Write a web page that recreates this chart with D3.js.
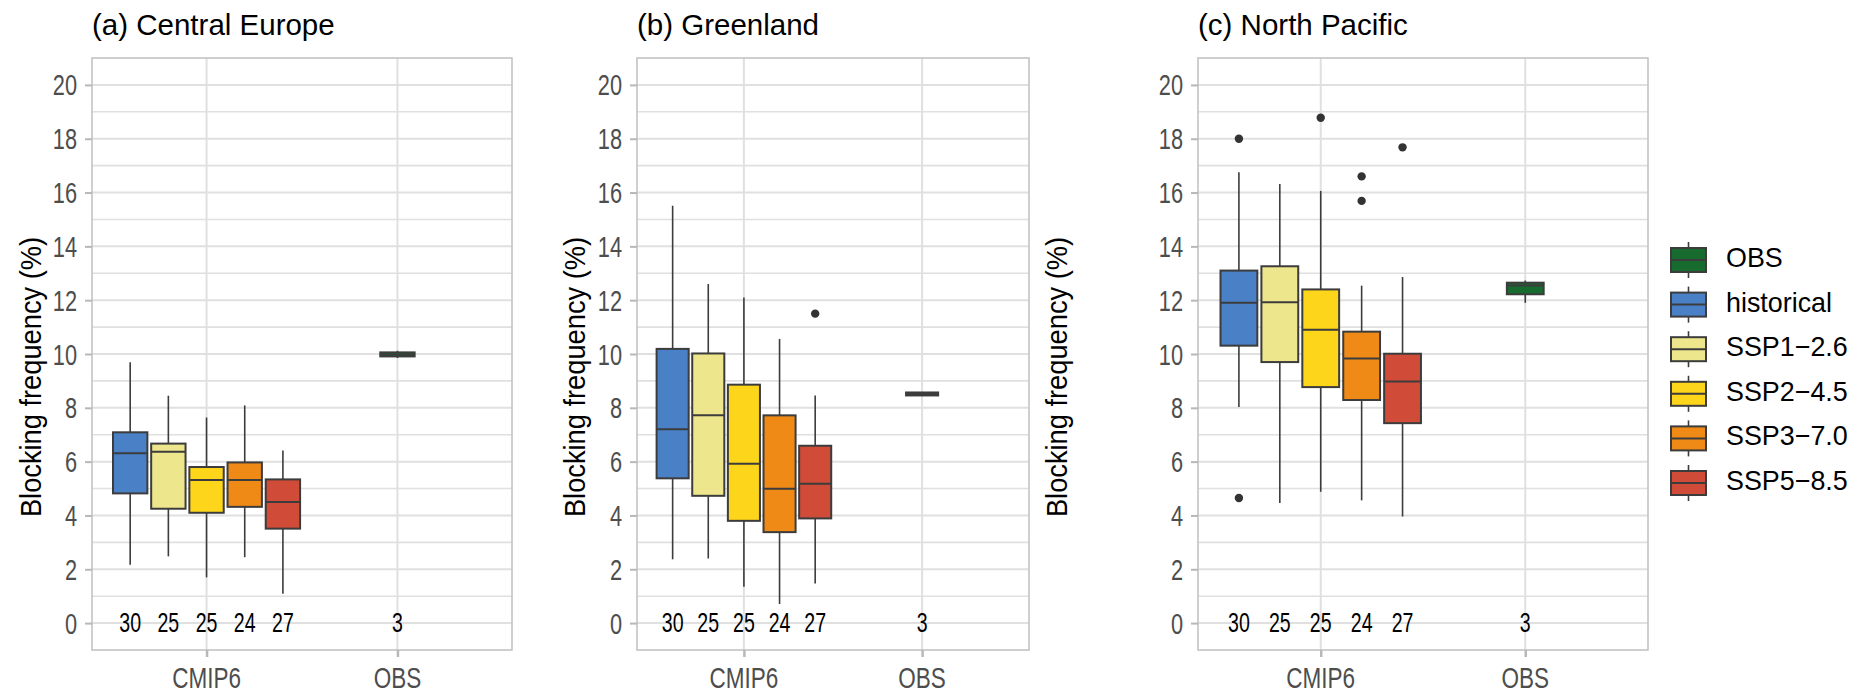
<!DOCTYPE html>
<html>
<head>
<meta charset="utf-8">
<script src="https://cdn.jsdelivr.net/npm/d3@7"></script>
<style>
  html, body { margin: 0; padding: 0; background: #ffffff; }
  svg { display: block; }
  text { font-family: "Liberation Sans", Arial, Helvetica, sans-serif; }
</style>
</head>
<body>
<script>
// ---- data -------------------------------------------------------------
const groups = ["CMIP6", "OBS"];
const scenarios = ["historical", "SSP1\u22122.6", "SSP2\u22124.5", "SSP3\u22127.0", "SSP5\u22128.5"];
const legendLabels = ["OBS", "historical", "SSP1\u22122.6", "SSP2\u22124.5", "SSP3\u22127.0", "SSP5\u22128.5"];
const legendColors = ["#176b2f", "#4a80c6", "#ede68c", "#fdd51a", "#f08a16", "#d04c38"];
const modelCounts = [30, 25, 25, 24, 27];
const obsCount = 3;
const yTicks = [0, 2, 4, 6, 8, 10, 12, 14, 16, 18, 20];
const yMinor = [-1, 1, 3, 5, 7, 9, 11, 13, 15, 17, 19, 21];
const panelTitles = ["(a) Central Europe", "(b) Greenland", "(c) North Pacific"];
const yTitle = "Blocking frequency (%)";

// box statistics per scenario: [lower whisker, Q1, median, Q3, upper whisker]
const centralEuropeCmip = [
  [2.17, 4.82, 6.31, 7.09, 9.69],
  [2.48, 4.25, 6.37, 6.67, 8.45],
  [1.70, 4.10, 5.32, 5.80, 7.64],
  [2.45, 4.32, 5.32, 5.97, 8.09],
  [1.09, 3.51, 4.50, 5.34, 6.41]
];
const centralEuropeObs = [9.85, 9.91, 9.98, 10.06, 10.12];
const centralEuropeOutliers = [[], [], [], [], []];

const greenlandCmip = [
  [2.37, 5.38, 7.20, 10.19, 15.51],
  [2.40, 4.73, 7.72, 10.02, 12.60],
  [1.35, 3.80, 5.92, 8.86, 12.10],
  [0.71, 3.38, 4.99, 7.72, 10.56],
  [1.47, 3.89, 5.18, 6.59, 8.46]
];
const greenlandObs = [8.45, 8.46, 8.51, 8.57, 8.58];
const greenlandOutliers = [[], [], [], [], [11.50]];

const northPacificCmip = [
  [8.03, 10.31, 11.90, 13.10, 16.75],
  [4.46, 9.70, 11.92, 13.26, 16.32],
  [4.88, 8.77, 10.90, 12.40, 16.06],
  [4.56, 8.29, 9.83, 10.83, 12.54],
  [3.96, 7.43, 8.98, 10.01, 12.86]
];
const northPacificObs = [11.90, 12.22, 12.55, 12.65, 12.73];
const northPacificOutliers = [[18.00, 4.65], [], [18.78], [16.60, 15.69], [17.68]];

const panels = [
  { title: panelTitles[0], cmip: centralEuropeCmip, obs: centralEuropeObs, outliers: centralEuropeOutliers },
  { title: panelTitles[1], cmip: greenlandCmip, obs: greenlandObs, outliers: greenlandOutliers },
  { title: panelTitles[2], cmip: northPacificCmip, obs: northPacificObs, outliers: northPacificOutliers }
];

// ---- layout -------------------------------------------------------------
const W = 1870, H = 694;
const plotTop = 58, plotBottom = 650;
const panelLeft = [92, 637, 1198];
const panelRight = [512, 1029, 1648];
const yTitleX = [31, 575, 1057];
const yTitleY = 377;

const gridColor = "#e0e0e0";
const borderColor = "#c4c4c4";
const tickColor = "#b8b8b8";
const boxStroke = "#3c3c3c";
const axisTextColor = "#4d4d4d";

const svg = d3.select("body").append("svg")
  .attr("width", W).attr("height", H);

svg.append("rect").attr("width", W).attr("height", H).attr("fill", "#ffffff");

// text with horizontal condensing
function addText(parent, x, y, str, o) {
  const sx = o.sx || 1;
  const rot = o.rotate ? ` rotate(${o.rotate})` : "";
  return parent.append("text")
    .attr("transform", `translate(${x},${y})${rot} scale(${sx},1)`)
    .attr("text-anchor", o.anchor || "start")
    .attr("font-size", o.size)
    .attr("fill", o.fill || "#000")
    .text(str);
}

const y = d3.scaleLinear().domain([-1, 21]).range([plotBottom, plotTop]);

panels.forEach((p, pi) => {
  const L = panelLeft[pi], R = panelRight[pi];
  const x = d3.scalePoint().domain(groups).range([L, R]).padding(0.6);
  const step = x.step();
  const boxW = step * 0.18;
  const g = svg.append("g");

  // grid
  g.selectAll(".minor").data(yMinor.filter(v => v > -1 && v < 21)).join("line")
    .attr("x1", L).attr("x2", R)
    .attr("y1", d => y(d)).attr("y2", d => y(d))
    .attr("stroke", gridColor).attr("stroke-width", 1.6);
  g.selectAll(".major").data(yTicks).join("line")
    .attr("x1", L).attr("x2", R)
    .attr("y1", d => y(d)).attr("y2", d => y(d))
    .attr("stroke", gridColor).attr("stroke-width", 2);
  g.selectAll(".vgrid").data(groups).join("line")
    .attr("x1", d => x(d)).attr("x2", d => x(d))
    .attr("y1", plotTop).attr("y2", plotBottom)
    .attr("stroke", gridColor).attr("stroke-width", 2);

  // panel border
  g.append("rect")
    .attr("x", L).attr("y", plotTop)
    .attr("width", R - L).attr("height", plotBottom - plotTop)
    .attr("fill", "none").attr("stroke", borderColor).attr("stroke-width", 1.6);

  // y axis
  const sxTick = 0.75;
  const yAxis = g.append("g").attr("transform", `translate(${L},0)`)
    .call(d3.axisLeft(y).tickValues(yTicks).tickSize(7).tickPadding(8).tickFormat(d3.format("d")));
  yAxis.select(".domain").remove();
  yAxis.selectAll(".tick line").attr("stroke", tickColor).attr("stroke-width", 2);
  yAxis.selectAll(".tick text")
    .attr("x", -15 / sxTick).attr("dy", null).attr("y", 10)
    .attr("transform", `scale(${sxTick},1)`)
    .attr("font-size", 29).attr("fill", axisTextColor)
    .attr("font-family", "Liberation Sans, Arial, sans-serif");

  // x axis
  const xAxis = g.append("g").attr("transform", `translate(0,${plotBottom})`)
    .call(d3.axisBottom(x).tickSize(7).tickPadding(0));
  xAxis.select(".domain").remove();
  xAxis.selectAll(".tick line").attr("stroke", tickColor).attr("stroke-width", 2.5);
  xAxis.selectAll(".tick text").remove();
  groups.forEach(gr => {
    addText(g, x(gr), 688, gr, { size: 30, sx: 0.75, anchor: "middle", fill: axisTextColor });
  });

  // boxes: one per scenario, dodged around the CMIP6 position, plus OBS
  const boxes = p.cmip.map((s, i) => ({
    cx: x("CMIP6") + (i - 2) * step * 0.2,
    stats: s, fill: legendColors[i + 1], outliers: p.outliers[i], n: modelCounts[i]
  }));
  boxes.push({ cx: x("OBS"), stats: p.obs, fill: legendColors[0], outliers: [], n: obsCount });

  boxes.forEach(b => {
    const [lo, q1, med, q3, hi] = b.stats;
    g.append("line").attr("x1", b.cx).attr("x2", b.cx)
      .attr("y1", y(hi)).attr("y2", y(q3))
      .attr("stroke", boxStroke).attr("stroke-width", 1.6);
    g.append("line").attr("x1", b.cx).attr("x2", b.cx)
      .attr("y1", y(q1)).attr("y2", y(lo))
      .attr("stroke", boxStroke).attr("stroke-width", 1.6);
    g.append("rect")
      .attr("x", b.cx - boxW / 2).attr("y", y(q3))
      .attr("width", boxW).attr("height", y(q1) - y(q3))
      .attr("fill", b.fill).attr("stroke", boxStroke).attr("stroke-width", 2);
    g.append("line")
      .attr("x1", b.cx - boxW / 2).attr("x2", b.cx + boxW / 2)
      .attr("y1", y(med)).attr("y2", y(med))
      .attr("stroke", boxStroke).attr("stroke-width", 2);
    b.outliers.forEach(v => {
      g.append("circle").attr("cx", b.cx).attr("cy", y(v)).attr("r", 4.2).attr("fill", "#333333");
    });
    addText(g, b.cx, y(0) + 9, String(b.n), { size: 28, sx: 0.70, anchor: "middle" });
  });

  // titles
  addText(svg, L, 35, p.title, { size: 29.5 });
  addText(svg, yTitleX[pi] + 10, yTitleY, yTitle, { size: 29, sx: 0.94, anchor: "middle", rotate: -90 });
});

// ---- legend -------------------------------------------------------------
const legend = svg.append("g");
const keyX = 1671, keyW = 35, keyH = 24, legY0 = 260, legStep = 44.6;
legendLabels.forEach((lab, i) => {
  const cy = legY0 + i * legStep;
  const cx = keyX + keyW / 2;
  legend.append("line").attr("x1", cx).attr("x2", cx)
    .attr("y1", cy - 18).attr("y2", cy + 18)
    .attr("stroke", boxStroke).attr("stroke-width", 1.6);
  legend.append("rect").attr("x", keyX).attr("y", cy - keyH / 2)
    .attr("width", keyW).attr("height", keyH)
    .attr("fill", legendColors[i]).attr("stroke", boxStroke).attr("stroke-width", 2);
  legend.append("line").attr("x1", keyX).attr("x2", keyX + keyW)
    .attr("y1", cy).attr("y2", cy)
    .attr("stroke", boxStroke).attr("stroke-width", 2);
  addText(legend, 1726, cy + 7, lab, { size: 28, sx: 0.96 });
});
</script>
</body>
</html>
